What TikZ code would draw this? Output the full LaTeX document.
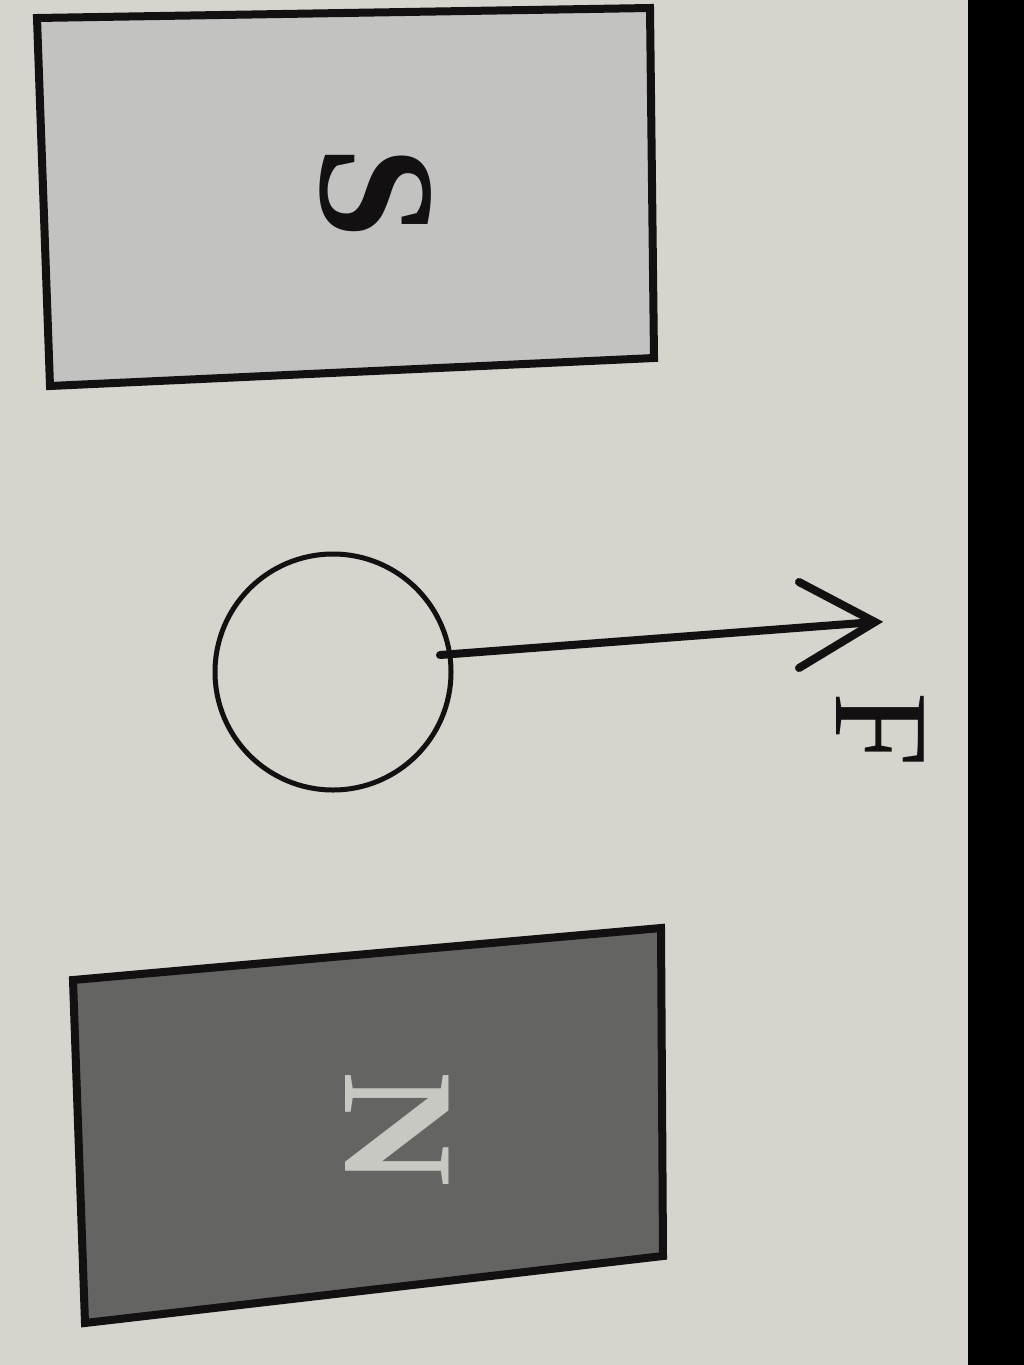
\documentclass[tikz,border=0pt]{standalone}
\usepackage{fontspec}
\setmainfont{Liberation Serif}
\definecolor{paper}{RGB}{214,212,205}
\definecolor{sfill}{RGB}{194,194,192}
\definecolor{nfill}{RGB}{100,100,98}
\definecolor{nletter}{RGB}{200,200,194}
\definecolor{ink}{RGB}{18,16,16}
\tikzset{
  magnet/.style={draw=ink, line width=8pt, line join=miter},
  lbl/.style={inner sep=0pt, rotate=-90, text=ink},
}
\begin{document}
\begin{tikzpicture}[x=1pt,y=-1pt]
\useasboundingbox (0,0) rectangle (1024,1365);
\fill[paper] (0,0) rectangle (1024,1365);
\fill[black] (968,0) rectangle (1024,1365);
% S magnet
\filldraw[magnet, fill=sfill] (37,18) -- (650,8) -- (654,358) -- (50,386) -- cycle;
\node[lbl, font=\fontsize{166}{166}\selectfont\bfseries] (S) at (376,193) {S};
% N magnet
\filldraw[magnet, fill=nfill] (73,980) -- (661,928) -- (663,1256) -- (85,1323) -- cycle;
\node[lbl, text=nletter, font=\fontsize{158}{158}\selectfont\bfseries] (N) at (397,1130) {N};
% conductor
\node[draw=ink, line width=5pt, circle, minimum size=236pt, inner sep=0pt] (c) at (333,672) {};
\coordinate (start) at (440,655);
\coordinate (tip) at (875,622);
\coordinate (h1) at (799,582);
\coordinate (h2) at (799,668);
\draw[ink, line width=8pt, line cap=round] (start) -- (tip);
\draw[ink, line width=8pt, line cap=round, line join=miter] (h1) -- (tip) -- (h2);
\node[lbl, font=\fontsize{134}{134}\selectfont] (F) at (880,730) {F};
\end{tikzpicture}
\end{document}
